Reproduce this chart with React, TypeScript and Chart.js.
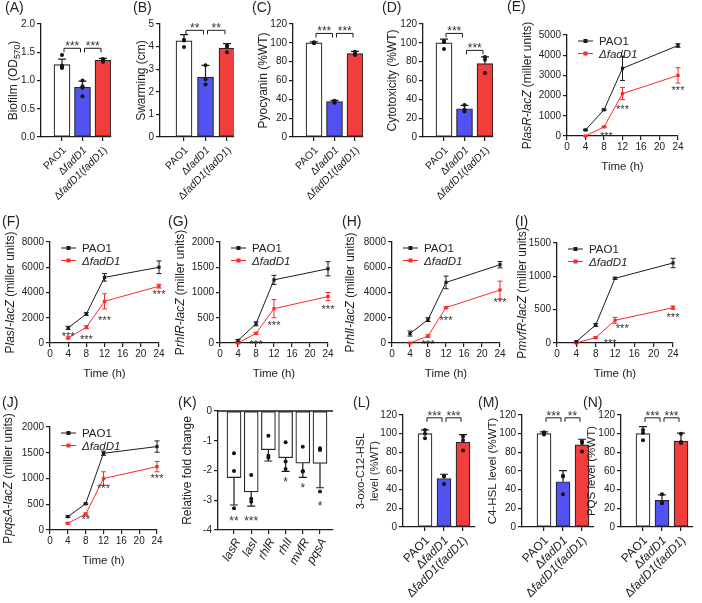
import React, { useEffect, useRef } from 'react';
import { Chart, registerables } from 'chart.js';

Chart.register(...registerables);

const PAGE_W = 702;
const PAGE_H = 603;
const FONT = '"Liberation Sans", Arial, Helvetica, sans-serif';
const INK = '#1c1c1c';
const RED = '#ff2828';

type Run = { t: string; i?: boolean; sub?: boolean };
const R = (t: string): Run => ({ t });
const It = (t: string): Run => ({ t, i: true });
const Sub = (t: string): Run => ({ t, sub: true });

// ================= DATA =================
const groupLabels: Run[][] = [
  [R('PAO1')],
  [R('Δ'), It('fadD1')],
  [R('Δ'), It('fadD1'), R('('), It('fadD1'), R(')')],
];
const geneNames = ['lasR', 'lasI', 'rhlR', 'rhlI', 'mvfR', 'pqsA'];
const timePoints = [4, 8, 12, 24];
const seriesNames: Run[][] = [[R('PAO1')], [It('ΔfadD1')]];

// (A) Biofilm
const biofilmMean = [1.28, 0.88, 1.36];
const biofilmSD = [0.1, 0.11, 0.03];
const biofilmDots = [[1.45, 1.26, 1.24, 1.22], [1.0, 0.9, 0.87, 0.72], [1.38, 1.36, 1.35, 1.33]];
const biofilmSig = ['***', '***'];
const biofilmSigY = [1.57, 1.57];

// (B) Swarming
const swarmMean = [4.25, 2.65, 3.93];
const swarmSD = [0.28, 0.52, 0.2];
const swarmDots = [[4.3, 4.27, 3.98], [3.17, 2.55, 2.32], [4.06, 3.99, 3.75]];
const swarmSig = ['**', '**'];
const swarmSigY = [4.72, 4.72];

// (C) Pyocyanin
const pyoMean = [100, 37.5, 88.5];
const pyoSD = [1, 1.5, 2.5];
const pyoDots = [[100.5, 100, 99.5], [38.5, 37.5, 36.5], [90.5, 88, 87]];
const pyoSig = ['***', '***'];
const pyoSigY = [110, 110];

// (D) Cytotoxicity
const cytoMean = [100, 30, 78];
const cytoSD = [4, 3.5, 7];
const cytoDots = [[102, 101, 93.5], [34, 29, 27], [85, 82, 68]];
const cytoSig = ['***', '***'];
const cytoSigY = [110, 92];

// (E) PlasR-lacZ
const lasRPAO1 = [300, 1300, 3350, 4480];
const lasRPAO1SD = [30, 40, 600, 90];
const lasRMut = [0, 450, 2100, 3000];
const lasRMutSD = [10, 30, 300, 380];
const lasRStarX = [8.5, 12, 24];
const lasRStarY = [130, 1430, 2370];
const lasRStars = ['***', '***', '***'];

// (F) PlasI-lacZ
const lasIPAO1 = [1200, 2300, 5200, 6000];
const lasIPAO1SD = [120, 100, 300, 500];
const lasIMut = [400, 1250, 3300, 4500];
const lasIMutSD = [80, 120, 600, 150];
const lasIStarX = [4, 8, 12, 24];
const lasIStarY = [713, 475, 1980, 4040];
const lasIStars = ['***', '***', '***', '***'];

// (G) PrhlR-lacZ
const rhlRPAO1 = [50, 380, 1250, 1470];
const rhlRPAO1SD = [20, 40, 90, 140];
const rhlRMut = [0, 190, 680, 920];
const rhlRMutSD = [10, 20, 180, 80];
const rhlRStarX = [8, 12, 24];
const rhlRStarY = [30, 396, 720];
const rhlRStars = ['***', '***', '***'];

// (H) PrhlI-lacZ
const rhlIPAO1 = [750, 1850, 4800, 6200];
const rhlIPAO1SD = [200, 150, 500, 250];
const rhlIMut = [0, 550, 2800, 4200];
const rhlIMutSD = [20, 100, 80, 700];
const rhlIStarX = [8, 12, 24];
const rhlIStarY = [100, 1980, 3400];
const rhlIStars = ['***', '***', '***'];

// (I) PmvfR-lacZ
const mvfRPAO1 = [20, 270, 970, 1200];
const mvfRPAO1SD = [10, 20, 15, 70];
const mvfRMut = [0, 80, 340, 530];
const mvfRMutSD = [5, 10, 45, 25];
const mvfRStarX = [11, 13.5, 24];
const mvfRStarY = [30, 256, 420];
const mvfRStars = ['***', '***', '***'];

// (J) PpqsA-lacZ
const pqsAPAO1 = [260, 510, 1490, 1620];
const pqsAPAO1SD = [15, 15, 40, 110];
const pqsAMut = [130, 310, 1000, 1230];
const pqsAMutSD = [15, 20, 130, 100];
const pqsAStarX = [8, 12, 24];
const pqsAStarY = [258, 860, 1050];
const pqsAStars = ['**', '***', '***'];

// (K) Relative fold change
const foldMean = [-2.24, -2.72, -1.3, -1.57, -1.75, -1.76];
const foldSD = [0.92, 0.48, 0.38, 0.46, 0.48, 0.82];
const foldDots = [
  [-1.42, -2.02, -3.27],
  [-2.15, -2.95, -3.05],
  [-0.83, -1.5, -1.57],
  [-1.05, -1.7, -1.95],
  [-1.2, -2.02, -2.03],
  [-1.25, -1.31, -2.71],
];
const foldSig = ['**', '***', '', '*', '*', '*'];
const foldSigY = [-3.6, -3.6, 0, -2.3, -2.5, -3.1];

// (L) 3-oxo-C12-HSL
const oxoMean = [100, 52, 91];
const oxoSD = [4, 4.5, 8];
const oxoDots = [[104, 100, 95], [55, 54, 46], [97, 93, 82]];
const oxoSig = ['***', '***'];
const oxoSigY = [117, 117];

// (M) C4-HSL
const c4Mean = [100, 48.5, 88];
const c4SD = [2, 12, 6];
const c4Dots = [[101.5, 100, 99], [55, 54, 35], [92, 90, 81]];
const c4Sig = ['***', '**'];
const c4SigY = [117, 117];

// (N) PQS
const pqsMean = [100, 28.5, 92];
const pqsSD = [7.5, 6, 8.5];
const pqsDots = [[104, 101, 93], [35, 26, 25.5], [100, 91, 90]];
const pqsSig = ['***', '***'];
const pqsSigY = [117, 117];

// Axis titles (text)
const titleBiofilm: Run[] = [R('Biofilm (OD'), Sub('570'), R(')')];
const titleSwarm: Run[] = [R('Swarming (cm)')];
const titlePyo: Run[] = [R('Pyocyanin (%WT)')];
const titleCyto: Run[] = [R('Cytotoxicity (%WT)')];
const promoterTitle = (g: string): Run[] => [R('P'), It(g + '-lacZ'), R(' (miller units)')];
const titleFold: Run[] = [R('Relative fold change')];
const titleOxo: Run[][] = [[R('3-oxo-C12-HSL')], [R('level (%WT)')]];
const titleC4: Run[] = [R('C4-HSL level (%WT)')];
const titlePqs: Run[] = [R('PQS level (%WT)')];
const timeTitle: Run[] = [R('Time (h)')];

// ================= STYLE / LAYOUT =================
const barFill = ['#ffffff', '#5252f2', '#f23d3d'];
const YW = 30;
const XH = 20;

type Plot = { l: number; t: number; r: number; b: number };
type Bracket = { a: number; b: number; y: number; t: string };

type BarSpec = {
  kind: 'bar';
  letter: string; lab: [number, number];
  plot: Plot; firstOff: number; spacing: number; barW: number; capW: number;
  means: number[]; sds: number[]; dots: number[][]; colors: string[];
  yMin: number; yMax: number; yStep: number; yDec: number;
  yTitle: Run[][]; yTitleX: number[]; titleSize: number;
  xLabels: Run[][]; xLabelSize: number; xAngle: number; xdx: number; xdy: number;
  brackets: Bracket[];
  stars?: { i: number; y: number; t: string }[];
  zeroLine?: boolean;
};

type LineSpec = {
  kind: 'line';
  letter: string; lab: [number, number];
  plot: Plot;
  yMax: number; yStep: number;
  series: { means: number[]; sds: number[]; color: string }[];
  stars: { x: number; y: number; t: string }[];
  yTitle: Run[][]; yTitleX: number[]; titleSize: number;
};

type Spec = BarSpec | LineSpec;

const mkBrackets = (sig: string[], ys: number[]): Bracket[] =>
  sig.map((t, k) => ({ a: k, b: k + 1, y: ys[k], t }));

const mkStars = (xs: number[], ys: number[], ts: string[]) => xs.map((x, k) => ({ x, y: ys[k], t: ts[k] }));

const twoSeries = (a: number[], asd: number[], b: number[], bsd: number[]) => [
  { means: a, sds: asd, color: INK },
  { means: b, sds: bsd, color: RED },
];

const specs: Spec[] = [
  {
    kind: 'bar', letter: '(A)', lab: [5, 8], plot: { l: 41, t: 24, r: 111, b: 137 },
    firstOff: 21, spacing: 20.5, barW: 16, capW: 8,
    means: biofilmMean, sds: biofilmSD, dots: biofilmDots, colors: barFill,
    yMin: 0, yMax: 2, yStep: 0.5, yDec: 1, yTitle: [titleBiofilm], yTitleX: [13], titleSize: 12,
    xLabels: groupLabels, xLabelSize: 10.5, xAngle: 45, xdx: 2, xdy: 11,
    brackets: mkBrackets(biofilmSig, biofilmSigY),
  },
  {
    kind: 'bar', letter: '(B)', lab: [133, 8], plot: { l: 160, t: 24, r: 234, b: 137 },
    firstOff: 24, spacing: 21.5, barW: 16, capW: 8,
    means: swarmMean, sds: swarmSD, dots: swarmDots, colors: barFill,
    yMin: 0, yMax: 5, yStep: 1, yDec: 0, yTitle: [titleSwarm], yTitleX: [141], titleSize: 12,
    xLabels: groupLabels, xLabelSize: 10.5, xAngle: 45, xdx: 2, xdy: 11,
    brackets: mkBrackets(swarmSig, swarmSigY),
  },
  {
    kind: 'bar', letter: '(C)', lab: [252, 8], plot: { l: 293, t: 24, r: 363, b: 137 },
    firstOff: 21, spacing: 20.5, barW: 16, capW: 8,
    means: pyoMean, sds: pyoSD, dots: pyoDots, colors: barFill,
    yMin: 0, yMax: 120, yStep: 20, yDec: 0, yTitle: [titlePyo], yTitleX: [263], titleSize: 12,
    xLabels: groupLabels, xLabelSize: 10.5, xAngle: 45, xdx: 2, xdy: 11,
    brackets: mkBrackets(pyoSig, pyoSigY),
  },
  {
    kind: 'bar', letter: '(D)', lab: [382, 8], plot: { l: 423, t: 24, r: 493, b: 137 },
    firstOff: 21, spacing: 20.5, barW: 16, capW: 8,
    means: cytoMean, sds: cytoSD, dots: cytoDots, colors: barFill,
    yMin: 0, yMax: 120, yStep: 20, yDec: 0, yTitle: [titleCyto], yTitleX: [392], titleSize: 12,
    xLabels: groupLabels, xLabelSize: 10.5, xAngle: 45, xdx: 2, xdy: 11,
    brackets: mkBrackets(cytoSig, cytoSigY),
  },
  {
    kind: 'line', letter: '(E)', lab: [507, 7], plot: { l: 567, t: 35, r: 678, b: 136 },
    yMax: 5000, yStep: 1000,
    series: twoSeries(lasRPAO1, lasRPAO1SD, lasRMut, lasRMutSD),
    stars: mkStars(lasRStarX, lasRStarY, lasRStars),
    yTitle: [promoterTitle('lasR')], yTitleX: [527], titleSize: 12,
  },
  {
    kind: 'line', letter: '(F)', lab: [2, 222], plot: { l: 50, t: 242, r: 159, b: 343 },
    yMax: 8000, yStep: 2000,
    series: twoSeries(lasIPAO1, lasIPAO1SD, lasIMut, lasIMutSD),
    stars: mkStars(lasIStarX, lasIStarY, lasIStars),
    yTitle: [promoterTitle('lasI')], yTitleX: [10], titleSize: 12,
  },
  {
    kind: 'line', letter: '(G)', lab: [168, 222], plot: { l: 220, t: 242, r: 328, b: 343 },
    yMax: 2000, yStep: 500,
    series: twoSeries(rhlRPAO1, rhlRPAO1SD, rhlRMut, rhlRMutSD),
    stars: mkStars(rhlRStarX, rhlRStarY, rhlRStars),
    yTitle: [promoterTitle('rhlR')], yTitleX: [180], titleSize: 12,
  },
  {
    kind: 'line', letter: '(H)', lab: [342, 222], plot: { l: 392, t: 242, r: 500, b: 343 },
    yMax: 8000, yStep: 2000,
    series: twoSeries(rhlIPAO1, rhlIPAO1SD, rhlIMut, rhlIMutSD),
    stars: mkStars(rhlIStarX, rhlIStarY, rhlIStars),
    yTitle: [promoterTitle('rhlI')], yTitleX: [350], titleSize: 12,
  },
  {
    kind: 'line', letter: '(I)', lab: [515, 222], plot: { l: 557, t: 243, r: 673, b: 343 },
    yMax: 1500, yStep: 500,
    series: twoSeries(mvfRPAO1, mvfRPAO1SD, mvfRMut, mvfRMutSD),
    stars: mkStars(mvfRStarX, mvfRStarY, mvfRStars),
    yTitle: [promoterTitle('mvfR')], yTitleX: [522], titleSize: 12,
  },
  {
    kind: 'line', letter: '(J)', lab: [2, 403], plot: { l: 50, t: 427, r: 157, b: 530 },
    yMax: 2000, yStep: 500,
    series: twoSeries(pqsAPAO1, pqsAPAO1SD, pqsAMut, pqsAMutSD),
    stars: mkStars(pqsAStarX, pqsAStarY, pqsAStars),
    yTitle: [promoterTitle('pqsA')], yTitleX: [8], titleSize: 12,
  },
  {
    kind: 'bar', letter: '(K)', lab: [178, 403], plot: { l: 218, t: 411, r: 333, b: 530 },
    firstOff: 16, spacing: 17.2, barW: 14, capW: 8,
    means: foldMean, sds: foldSD, dots: foldDots, colors: foldMean.map(() => '#ffffff'),
    yMin: -4, yMax: 0, yStep: 1, yDec: 0, yTitle: [titleFold], yTitleX: [187], titleSize: 12,
    xLabels: geneNames.map((g) => [It(g)]), xLabelSize: 12, xAngle: 60, xdx: 3, xdy: 9,
    brackets: [],
    stars: foldSig.map((t, i) => ({ i, y: foldSigY[i], t })),
    zeroLine: true,
  },
  {
    kind: 'bar', letter: '(L)', lab: [353, 403], plot: { l: 403, t: 415, r: 475, b: 527 },
    firstOff: 22, spacing: 19, barW: 14, capW: 8,
    means: oxoMean, sds: oxoSD, dots: oxoDots, colors: barFill,
    yMin: 0, yMax: 120, yStep: 20, yDec: 0, yTitle: titleOxo, yTitleX: [360, 374], titleSize: 11,
    xLabels: groupLabels, xLabelSize: 12, xAngle: 45, xdx: 2, xdy: 11,
    brackets: mkBrackets(oxoSig, oxoSigY),
  },
  {
    kind: 'bar', letter: '(M)', lab: [478, 403], plot: { l: 522, t: 415, r: 594, b: 527 },
    firstOff: 22, spacing: 19, barW: 14, capW: 8,
    means: c4Mean, sds: c4SD, dots: c4Dots, colors: barFill,
    yMin: 0, yMax: 120, yStep: 20, yDec: 0, yTitle: [titleC4], yTitleX: [492], titleSize: 11.5,
    xLabels: groupLabels, xLabelSize: 12, xAngle: 45, xdx: 2, xdy: 11,
    brackets: mkBrackets(c4Sig, c4SigY),
  },
  {
    kind: 'bar', letter: '(N)', lab: [583, 403], plot: { l: 621, t: 415, r: 693, b: 527 },
    firstOff: 22, spacing: 19, barW: 14, capW: 8,
    means: pqsMean, sds: pqsSD, dots: pqsDots, colors: barFill,
    yMin: 0, yMax: 120, yStep: 20, yDec: 0, yTitle: [titlePqs], yTitleX: [591], titleSize: 11.5,
    xLabels: groupLabels, xLabelSize: 12, xAngle: 45, xdx: 2, xdy: 11,
    brackets: mkBrackets(pqsSig, pqsSigY),
  },
];

// ================= TEXT HELPERS =================
const fontStr = (size: number, italic?: boolean) => `${italic ? 'italic ' : ''}${size}px ${FONT}`;

function runsWidth(ctx: CanvasRenderingContext2D, runs: Run[], size: number) {
  let w = 0;
  for (const r of runs) {
    ctx.font = fontStr(r.sub ? size * 0.72 : size, r.i);
    w += ctx.measureText(r.t).width;
  }
  return w;
}

function drawRuns(ctx: CanvasRenderingContext2D, runs: Run[], x: number, y: number, size: number,
  align: 'left' | 'center' | 'right', color = '#222') {
  const w = runsWidth(ctx, runs, size);
  let cx = align === 'left' ? x : align === 'center' ? x - w / 2 : x - w;
  const base = y + size * 0.36;
  ctx.fillStyle = color;
  ctx.textAlign = 'left';
  ctx.textBaseline = 'alphabetic';
  for (const r of runs) {
    const s = r.sub ? size * 0.72 : size;
    ctx.font = fontStr(s, r.i);
    ctx.fillText(r.t, cx, r.sub ? base + size * 0.2 : base);
    cx += ctx.measureText(r.t).width;
  }
}

function drawStars(ctx: CanvasRenderingContext2D, t: string, x: number, yCenter: number, size: number) {
  ctx.font = fontStr(size);
  ctx.fillStyle = '#333';
  ctx.textAlign = 'center';
  ctx.textBaseline = 'alphabetic';
  ctx.fillText(t, x, yCenter + size * 0.56);
}

// ================= CHART CONFIG =================
const tickFont = { family: FONT, size: 10 };
const axisGrid = { display: true, drawOnChartArea: false, drawTicks: true, tickLength: 4, color: INK, lineWidth: 1.2, offset: false };
const axisBorder = { display: true, color: INK, width: 1.3 };

function decoPlugin(spec: Spec) {
  return {
    id: 'deco',
    beforeDatasetsDraw(chart: any) {
      if (spec.kind !== 'line') return;
      const ctx: CanvasRenderingContext2D = chart.ctx;
      const xs = chart.scales.x, ys = chart.scales.y;
      for (const s of spec.series) {
        ctx.save();
        ctx.strokeStyle = s.color;
        ctx.lineWidth = 1;
        s.means.forEach((m, j) => {
          const sd = s.sds[j];
          const x = xs.getPixelForValue(timePoints[j]);
          const y1 = ys.getPixelForValue(m - sd), y2 = ys.getPixelForValue(m + sd);
          ctx.beginPath();
          ctx.moveTo(x, y1); ctx.lineTo(x, y2);
          ctx.moveTo(x - 2.5, y1); ctx.lineTo(x + 2.5, y1);
          ctx.moveTo(x - 2.5, y2); ctx.lineTo(x + 2.5, y2);
          ctx.stroke();
        });
        ctx.restore();
      }
    },
    afterDatasetsDraw(chart: any) {
      if (spec.kind !== 'bar') return;
      const ctx: CanvasRenderingContext2D = chart.ctx;
      const xs = chart.scales.x, ys = chart.scales.y;
      ctx.save();
      ctx.strokeStyle = INK;
      ctx.lineWidth = 1.2;
      if (spec.zeroLine) {
        const y0 = ys.getPixelForValue(0);
        ctx.beginPath();
        ctx.lineWidth = 1.5;
        ctx.moveTo(spec.plot.l, y0); ctx.lineTo(spec.plot.r, y0);
        ctx.stroke();
        ctx.lineWidth = 1.2;
      }
      spec.means.forEach((m, i) => {
        const sign = m >= 0 ? 1 : -1;
        const x = xs.getPixelForValue(i);
        const y1 = ys.getPixelForValue(m), y2 = ys.getPixelForValue(m + sign * spec.sds[i]);
        ctx.beginPath();
        ctx.moveTo(x, y1); ctx.lineTo(x, y2);
        ctx.moveTo(x - spec.capW / 2, y2); ctx.lineTo(x + spec.capW / 2, y2);
        ctx.stroke();
      });
      for (const br of spec.brackets) {
        const x1 = xs.getPixelForValue(br.a) + 2, x2 = xs.getPixelForValue(br.b) - 2;
        const y = ys.getPixelForValue(br.y);
        ctx.beginPath();
        ctx.lineWidth = 1;
        ctx.moveTo(x1, y + 4); ctx.lineTo(x1, y); ctx.lineTo(x2, y); ctx.lineTo(x2, y + 4);
        ctx.stroke();
        drawStars(ctx, br.t, (x1 + x2) / 2, y - 5, 12);
      }
      if (spec.stars) {
        for (const s of spec.stars) {
          if (!s.t) continue;
          drawStars(ctx, s.t, xs.getPixelForValue(s.i), ys.getPixelForValue(s.y), 12);
        }
      }
      ctx.restore();
    },
    afterDraw(chart: any) {
      const ctx: CanvasRenderingContext2D = chart.ctx;
      const xs = chart.scales.x, ys = chart.scales.y;
      const p = spec.plot;
      ctx.save();
      // panel letter
      ctx.font = fontStr(14);
      ctx.fillStyle = '#222';
      ctx.textAlign = 'left';
      ctx.textBaseline = 'middle';
      ctx.fillText(spec.letter, spec.lab[0], spec.lab[1]);
      // y title
      const midY = (p.t + p.b) / 2;
      spec.yTitle.forEach((runs, k) => {
        ctx.save();
        ctx.translate(spec.yTitleX[k], midY);
        ctx.rotate(-Math.PI / 2);
        drawRuns(ctx, runs, 0, 0, spec.titleSize, 'center');
        ctx.restore();
      });
      if (spec.kind === 'bar') {
        spec.xLabels.forEach((runs, i) => {
          ctx.save();
          ctx.translate(xs.getPixelForValue(i) + spec.xdx, p.b + spec.xdy);
          ctx.rotate((-spec.xAngle * Math.PI) / 180);
          drawRuns(ctx, runs, 0, 0, spec.xLabelSize, 'right');
          ctx.restore();
        });
      } else {
        drawRuns(ctx, timeTitle, (p.l + p.r) / 2, p.b + 30, 11.5, 'center');
        // legend
        spec.series.forEach((s, k) => {
          const y = p.t + 6 + k * 12.5;
          const x0 = p.l + 11, x1 = p.l + 26;
          ctx.strokeStyle = s.color;
          ctx.fillStyle = s.color;
          ctx.lineWidth = 1;
          ctx.beginPath(); ctx.moveTo(x0, y); ctx.lineTo(x1, y); ctx.stroke();
          ctx.fillRect((x0 + x1) / 2 - 2, y - 2, 4, 4);
          drawRuns(ctx, seriesNames[k], p.l + 32, y, 11.5, 'left', '#222');
        });
        for (const st of spec.stars) {
          drawStars(ctx, st.t, xs.getPixelForValue(st.x), ys.getPixelForValue(st.y), 11);
        }
      }
      ctx.restore();
    },
  };
}

function layoutPadding(p: Plot) {
  return { left: p.l - YW, top: p.t, right: PAGE_W - p.r, bottom: PAGE_H - p.b - XH };
}

function yScale(min: number, max: number, step: number, fmt: (v: number) => string) {
  return {
    type: 'linear', min, max,
    ticks: { stepSize: step, callback: (v: any) => fmt(Number(v)), font: tickFont, color: '#222', padding: 2 },
    grid: axisGrid, border: axisBorder,
    afterFit: (s: any) => { s.width = YW; },
  };
}

function makeConfig(spec: Spec): any {
  const common = {
    responsive: false, animation: false, events: [],
    layout: { padding: layoutPadding(spec.plot) },
    plugins: { legend: { display: false }, tooltip: { enabled: false }, title: { display: false } },
  };
  if (spec.kind === 'bar') {
    const xmin = -spec.firstOff / spec.spacing;
    const xmax = xmin + (spec.plot.r - spec.plot.l) / spec.spacing;
    const idx = spec.means.map((_, i) => i);
    return {
      type: 'bar',
      data: {
        datasets: [
          {
            type: 'bar', order: 2,
            data: spec.means.map((y, i) => ({ x: i, y })),
            backgroundColor: spec.colors, borderColor: '#262626', borderWidth: 1.2,
            borderSkipped: false, barThickness: spec.barW,
          },
          {
            type: 'scatter', order: 1, clip: false,
            data: spec.dots.flatMap((arr, i) => arr.map((v) => ({ x: i, y: v }))),
            pointRadius: 2, pointBackgroundColor: '#111', pointBorderWidth: 0,
          },
        ],
      },
      options: {
        ...common,
        scales: {
          x: {
            type: 'linear', min: xmin, max: xmax, offset: false,
            afterBuildTicks: (s: any) => { s.ticks = idx.map((v) => ({ value: v })); },
            ticks: { display: false },
            grid: axisGrid, border: axisBorder,
            afterFit: (s: any) => { s.height = XH; },
          },
          y: yScale(spec.yMin, spec.yMax, spec.yStep, (v) => v.toFixed(spec.yDec)),
        },
      },
      plugins: [decoPlugin(spec)],
    };
  }
  return {
    type: 'line',
    data: {
      datasets: spec.series.map((s) => ({
        data: s.means.map((y, j) => ({ x: timePoints[j], y })),
        borderColor: s.color, backgroundColor: s.color, borderWidth: 1,
        pointStyle: 'rect', pointRadius: 2.3, pointBorderWidth: 0, pointBackgroundColor: s.color,
        tension: 0, clip: false,
      })),
    },
    options: {
      ...common,
      scales: {
        x: {
          type: 'linear', min: 0, max: 24,
          ticks: { stepSize: 4, font: tickFont, color: '#222', padding: 1, maxRotation: 0, autoSkip: false },
          grid: axisGrid, border: axisBorder,
          afterFit: (s: any) => { s.height = XH; },
        },
        y: yScale(0, spec.yMax, spec.yStep, (v) => String(Math.round(v))),
      },
    },
    plugins: [decoPlugin(spec)],
  };
}

function Panel({ spec }: { spec: Spec }) {
  const ref = useRef<HTMLCanvasElement>(null);
  useEffect(() => {
    const chart = new Chart(ref.current as HTMLCanvasElement, makeConfig(spec));
    return () => chart.destroy();
  }, [spec]);
  return (
    <canvas
      ref={ref}
      width={PAGE_W}
      height={PAGE_H}
      style={{ position: 'absolute', left: 0, top: 0, width: PAGE_W, height: PAGE_H }}
    />
  );
}

export default function App() {
  return (
    <div style={{ position: 'absolute', left: 0, top: 0, width: PAGE_W, height: PAGE_H, background: '#fff', overflow: 'hidden' }}>
      {specs.map((s) => (
        <Panel key={s.letter} spec={s} />
      ))}
    </div>
  );
}
